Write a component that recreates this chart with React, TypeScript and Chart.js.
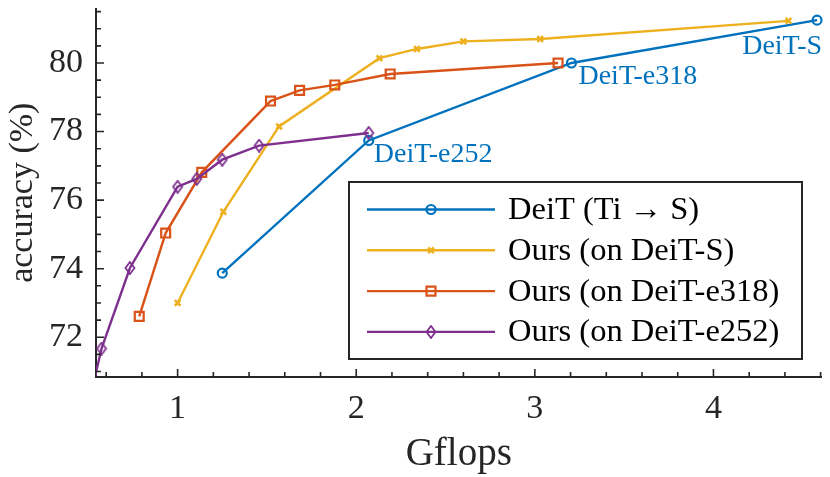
import { useEffect, useRef } from 'react';
import { Chart, registerables } from 'chart.js';
import { drawPoint } from 'chart.js/helpers';

Chart.register(...registerables);

// values
const deitX = [1.25, 2.07, 3.205, 4.58];
const deitY = [73.87, 77.74, 80.0, 81.25];
const oursSX = [1.0, 1.256, 1.568, 2.13, 2.34, 2.6, 3.03, 4.42];
const oursSY = [73.0, 75.66, 78.15, 80.14, 80.41, 80.63, 80.7, 81.23];
const ours318X = [0.785, 0.933, 1.135, 1.52, 1.683, 1.88, 2.19, 3.13];
const ours318Y = [72.61, 75.04, 76.81, 78.89, 79.2, 79.36, 79.68, 80.0];
const ours252X = [0.5, 0.574, 0.733, 1.0, 1.107, 1.25, 1.456, 2.07];
const ours252Y = [70.0, 71.67, 74.02, 76.39, 76.62, 77.18, 77.59, 77.96];

const deitNames = ['', 'DeiT-e252', 'DeiT-e318', 'DeiT-S'];
const seriesLabels = ['DeiT (Ti \u2192 S)', 'Ours (on DeiT-S)', 'Ours (on DeiT-e318)', 'Ours (on DeiT-e252)'];

const xMajorTicks = [1, 2, 3, 4];
const yMajorTicks = [72, 74, 76, 78, 80];

const axisColor = '#262626';
const blue = '#0072BD';
const yellow = '#EDB120';
const orange = '#D95319';
const purple = '#7E2F8E';
const serif = "'Liberation Serif', 'Times New Roman', serif";
const clear = 'rgba(0,0,0,0)';

const X_MIN = 0.543;
const X_MAX = 4.605;
const Y_MIN = 70.84;
const Y_MAX = 81.59;

const xMinorTicks: number[] = [];
for (let i = 3; i <= 23; i++) xMinorTicks.push(i / 5);
const yMinorTicks: number[] = [];
for (let i = 142; i <= 163; i++) yMinorTicks.push(i / 2);

const zip = (xs: number[], ys: number[]) => xs.map((x, i) => ({ x, y: ys[i] }));

// offsets of the blue name labels from their points
const nameOffsets: { dx: number; dy: number; align: CanvasTextAlign }[] = [
	{ dx: 0, dy: 0, align: 'left' },
	{ dx: 5, dy: 22, align: 'left' },
	{ dx: 7, dy: 21, align: 'left' },
	{ dx: 5, dy: 34, align: 'right' },
];

function makeDiamond() {
	const c = document.createElement('canvas');
	c.width = 12;
	c.height = 14;
	const g = c.getContext('2d')!;
	g.strokeStyle = purple;
	g.lineWidth = 1.8;
	g.beginPath();
	g.moveTo(6, 1);
	g.lineTo(10.5, 7);
	g.lineTo(6, 13);
	g.lineTo(1.5, 7);
	g.closePath();
	g.stroke();
	return c;
}

const decor = {
	id: 'decor',
	afterDatasetsDraw(chart: any) {
		const { ctx, chartArea, scales } = chart;
		const x = scales.x;
		const y = scales.y;
		ctx.save();
		ctx.strokeStyle = axisColor;
		ctx.lineWidth = 1.6;
		ctx.beginPath();
		xMinorTicks.forEach((v) => {
			const px = x.getPixelForValue(v);
			const len = xMajorTicks.includes(v) ? 8 : 5;
			ctx.moveTo(px, chartArea.bottom);
			ctx.lineTo(px, chartArea.bottom - len);
		});
		yMinorTicks.forEach((v) => {
			const py = y.getPixelForValue(v);
			const len = yMajorTicks.includes(v) ? 8 : 5;
			ctx.moveTo(chartArea.left, py);
			ctx.lineTo(chartArea.left + len, py);
		});
		ctx.stroke();

		ctx.fillStyle = blue;
		ctx.font = `28px ${serif}`;
		ctx.textBaseline = 'alphabetic';
		deitNames.forEach((name, i) => {
			if (!name) return;
			const o = nameOffsets[i];
			ctx.textAlign = o.align;
			ctx.fillText(name, x.getPixelForValue(deitX[i]) + o.dx, y.getPixelForValue(deitY[i]) + o.dy);
		});
		ctx.restore();
	},
	afterDraw(chart: any) {
		const { ctx } = chart;
		const left = 349;
		const top = 182;
		const w = 453;
		const h = 177;
		ctx.save();
		ctx.fillStyle = '#ffffff';
		ctx.fillRect(left, top, w, h);
		ctx.strokeStyle = axisColor;
		ctx.lineWidth = 2;
		ctx.strokeRect(left, top, w, h);
		chart.data.datasets.forEach((ds: any, i: number) => {
			const rowY = 209.5 + i * 40.8;
			ctx.strokeStyle = ds.borderColor;
			ctx.lineWidth = ds.borderWidth;
			ctx.beginPath();
			ctx.moveTo(367, rowY);
			ctx.lineTo(495, rowY);
			ctx.stroke();
			ctx.fillStyle = clear;
			ctx.lineWidth = ds.pointBorderWidth;
			drawPoint(ctx, { pointStyle: ds.pointStyle, radius: ds.pointRadius, borderWidth: ds.pointBorderWidth, rotation: 0 }, 431, rowY);
			ctx.fillStyle = '#000000';
			ctx.font = `32.5px ${serif}`;
			ctx.textAlign = 'left';
			ctx.textBaseline = 'middle';
			ctx.fillText(ds.label, 508, rowY + 1);
		});
		ctx.restore();
	},
};

export default function App() {
	const canvas = useRef<HTMLCanvasElement | null>(null);
	useEffect(() => {
		document.body.style.margin = '0';
		if (!canvas.current) return;
		const clip = { left: 0, top: 10, right: 10, bottom: 0 };
		const line = { borderWidth: 2.4, backgroundColor: clear, pointBackgroundColor: clear, pointBorderWidth: 2.2, tension: 0, clip };
		const chart = new Chart(canvas.current, {
			type: 'line',
			data: {
				datasets: [
					{ ...line, label: seriesLabels[0], data: zip(deitX, deitY), borderColor: blue, pointBorderColor: blue, pointStyle: 'circle', pointRadius: 4.5, order: 4 },
					{ ...line, label: seriesLabels[1], data: zip(oursSX, oursSY), borderColor: yellow, pointBorderColor: yellow, pointStyle: 'crossRot', pointRadius: 4, pointBorderWidth: 2.6, order: 3 },
					{ ...line, label: seriesLabels[2], data: zip(ours318X, ours318Y), borderColor: orange, pointBorderColor: orange, pointStyle: 'rect', pointRadius: 6.3, order: 2 },
					{ ...line, label: seriesLabels[3], data: zip(ours252X, ours252Y), borderColor: purple, pointBorderColor: purple, pointStyle: makeDiamond(), pointRadius: 6, order: 1 },
				] as any,
			},
			options: {
				animation: false,
				responsive: true,
				maintainAspectRatio: false,
				layout: { padding: { top: 5, right: 5, left: 0, bottom: 0 } },
				plugins: { legend: { display: false }, tooltip: { enabled: false } },
				scales: {
					x: {
						type: 'linear',
						min: X_MIN,
						max: X_MAX,
						afterBuildTicks: (s: any) => {
							s.ticks = xMajorTicks.map((v) => ({ value: v }));
						},
						afterFit: (s: any) => {
							s.height = 100;
							s.paddingLeft = 0;
							s.paddingRight = 0;
						},
						grid: { display: false, drawTicks: false },
						border: { display: true, color: axisColor, width: 2 },
						ticks: { color: axisColor, font: { family: serif, size: 34 }, padding: 12, maxRotation: 0, autoSkip: false },
						title: { display: true, text: 'Gflops', color: axisColor, font: { family: serif, size: 39, lineHeight: 1.15 }, padding: 0 },
					},
					y: {
						type: 'linear',
						min: Y_MIN,
						max: Y_MAX,
						afterBuildTicks: (s: any) => {
							s.ticks = yMajorTicks.map((v) => ({ value: v }));
						},
						afterFit: (s: any) => {
							s.width = 96;
							s.paddingTop = 0;
							s.paddingBottom = 0;
						},
						grid: { display: false, drawTicks: false },
						border: { display: true, color: axisColor, width: 2 },
						ticks: { color: axisColor, font: { family: serif, size: 34 }, padding: 13, autoSkip: false },
						title: { display: true, text: 'accuracy (%)', color: axisColor, font: { family: serif, size: 34 }, padding: 3 },
					},
				},
			},
			plugins: [decor],
		});
		return () => chart.destroy();
	}, []);

	return (
		<div style={{ width: 830, height: 477, position: 'relative' }}>
			<canvas ref={canvas}></canvas>
		</div>
	);
}
